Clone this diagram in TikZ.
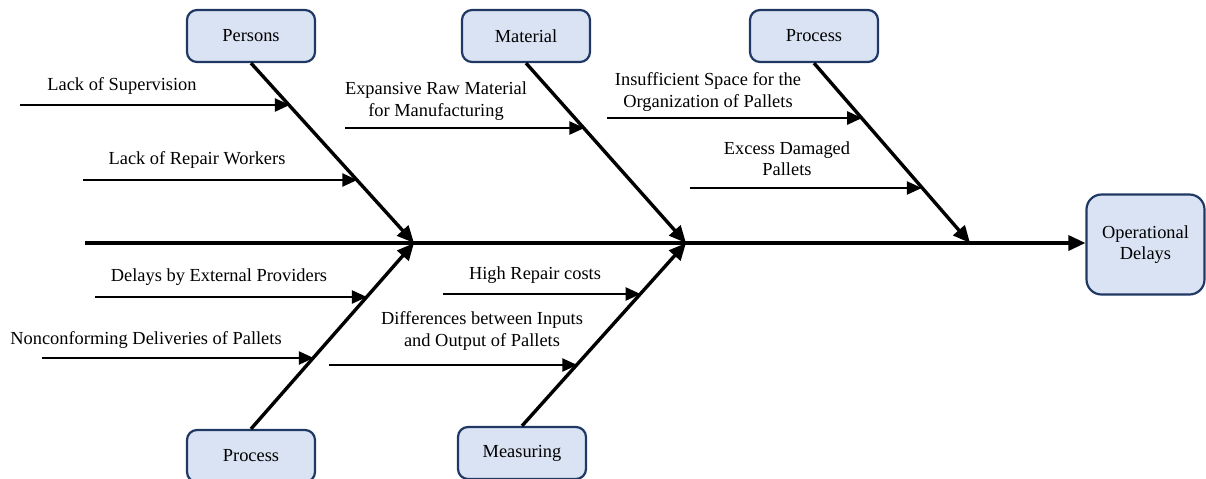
\documentclass[tikz,border=0pt]{standalone}
\usepackage{fontspec}
\setmainfont{Liberation Serif}
\usetikzlibrary{arrows.meta,calc}
\definecolor{boxfill}{HTML}{DAE3F3}
\definecolor{boxline}{HTML}{1F3864}
\begin{document}
\begin{tikzpicture}[x=0.5pt,y=-0.5pt,
  catbox/.style={draw=boxline,fill=boxfill,line width=1.1pt,rounded corners=5pt,
    minimum width=64pt,minimum height=26pt,inner sep=0pt,font=\fontsize{9.2pt}{10.6pt}\selectfont},
  effectbox/.style={draw=boxline,fill=boxfill,line width=1.1pt,rounded corners=7.5pt,
    minimum width=59pt,minimum height=50pt,inner sep=0pt,align=center,
    font=\fontsize{9.2pt}{10.6pt}\selectfont},
  lbl/.style={inner sep=0pt,align=center,font=\fontsize{9.2pt}{10.6pt}\selectfont},
  spine/.style={line width=1.7pt,-{Triangle[length=8.5pt,width=7.5pt]}},
  bone/.style={line width=1.7pt,-{Triangle[length=8.5pt,width=7.5pt]}},
  cause/.style={line width=1.25pt,-{Triangle[length=7.5pt,width=6.5pt]}}]
\useasboundingbox (0,0) rectangle (1206,478);
\clip (0,0) rectangle (1206,478);

% category boxes and the effect box
\node[catbox] (persons)  at (251,36)  {Persons};
\node[catbox] (material) at (526,36)  {Material};
\node[catbox] (procT)    at (814,36)  {Process};
\node[catbox] (procB)    at (251,456) {Process};
\node[catbox] (measure)  at (522,453) {Measuring};
\node[effectbox] (effect) at (1145.5,244.5) {Operational\\Delays};

% junctions on the spine
\coordinate (tail) at (85,243);
\coordinate (J1) at (414,243);
\coordinate (J2) at (686,243);
\coordinate (J3) at (970,243);

% spine and main bones
\draw[spine] (tail) -- (tail -| effect.west);
\draw[bone] (persons.south) -- (J1);
\draw[bone] (procB.north) -- (J1);
\draw[bone] (material.south) -- (J2);
\draw[bone] (measure.north) -- (J2);
\draw[bone] (procT.south) -- (J3);

% points where the causes meet the bones
\coordinate (e1) at ($(persons.south)!0.238!(J1)$);
\coordinate (e2) at ($(persons.south)!0.652!(J1)$);
\coordinate (e3) at ($(procB.north)!0.711!(J1)$);
\coordinate (e4) at ($(procB.north)!0.385!(J1)$);
\coordinate (e5) at ($(material.south)!0.365!(J2)$);
\coordinate (e6) at ($(measure.north)!0.723!(J2)$);
\coordinate (e7) at ($(measure.north)!0.337!(J2)$);
\coordinate (e8) at ($(procT.south)!0.309!(J3)$);
\coordinate (e9) at ($(procT.south)!0.691!(J3)$);

% starting points of the causes
\coordinate (s1) at (20,105);
\coordinate (s2) at (83,180);
\coordinate (s3) at (95,297);
\coordinate (s4) at (42,358);
\coordinate (s5) at (345,128);
\coordinate (s6) at (443,294);
\coordinate (s7) at (329,365);
\coordinate (s8) at (607,118);
\coordinate (s9) at (690,188);

\draw[cause] (s1) -- (s1 -| e1);
\draw[cause] (s2) -- (s2 -| e2);
\draw[cause] (s3) -- (s3 -| e3);
\draw[cause] (s4) -- (s4 -| e4);
\draw[cause] (s5) -- (s5 -| e5);
\draw[cause] (s6) -- (s6 -| e6);
\draw[cause] (s7) -- (s7 -| e7);
\draw[cause] (s8) -- (s8 -| e8);
\draw[cause] (s9) -- (s9 -| e9);

% cause labels
\node[lbl] (l1) at (122,86)  {Lack of Supervision};
\node[lbl] (l2) at (197,160) {Lack of Repair Workers};
\node[lbl] (l3) at (219,277) {Delays by External Providers};
\node[lbl] (l4) at (146,340) {Nonconforming Deliveries of Pallets};
\node[lbl] (l5) at (436,101) {Expansive Raw Material\\for Manufacturing};
\node[lbl] (l6) at (535,275) {High Repair costs};
\node[lbl] (l7) at (482,331) {Differences between Inputs\\and Output of Pallets};
\node[lbl] (l8) at (708,92)  {Insufficient Space for the\\Organization of Pallets};
\node[lbl] (l9) at (787,159) {Excess Damaged\\Pallets};
\end{tikzpicture}
\end{document}
